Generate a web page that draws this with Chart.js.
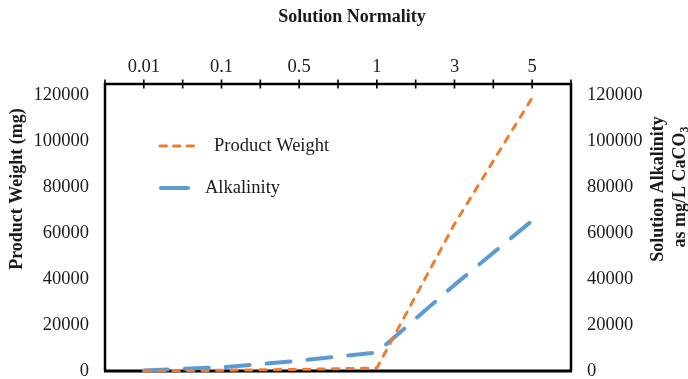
<!DOCTYPE html>
<html>
<head>
<meta charset="utf-8">
<script src="https://cdn.jsdelivr.net/npm/chart.js@4/dist/chart.umd.min.js"></script>
<style>
  html, body { margin: 0; padding: 0; background: #fff; }
  canvas { display: block; }
</style>
</head>
<body>
<canvas id="c" width="688" height="379"></canvas>
<script>
// ---- data ----
const categories = ['0.01', '0.1', '0.5', '1', '3', '5'];
const productWeight = [0, 300, 700, 1300, 64000, 119000];
const alkalinity = [200, 1600, 4500, 8100, 37500, 65500];
const yTicks = [0, 20000, 40000, 60000, 80000, 100000, 120000];
const seriesNames = ['Product Weight', 'Alkalinity'];
const xTitle = 'Solution Normality';
const yLeftTitle = 'Product Weight (mg)';
const yRightTitle1 = 'Solution Alkalinity';
const yRightTitle2 = 'as mg/L CaCO';
const yRightTitleSub = '3';

const ORANGE = '#ED7D31';
const BLUE = '#5B9BD5';
const SERIF = '"Liberation Serif", "Times New Roman", serif';
const TXT = '#1a1a1a';

const styleOrange = { width: 3, dash: [6.5, 8] };
const styleBlue = { width: 4, dash: [24, 17] };

const decor = {
  id: 'decor',
  beforeDatasetsDraw(chart) {
    const { ctx, chartArea: a } = chart;
    ctx.save();
    ctx.strokeStyle = '#000';
    ctx.lineCap = 'butt';
    ctx.lineWidth = 2.5;
    ctx.beginPath();
    ctx.moveTo(a.left, a.bottom);
    ctx.lineTo(a.left, a.top);
    ctx.lineTo(a.right, a.top);
    ctx.lineTo(a.right, a.bottom);
    ctx.stroke();
    ctx.lineWidth = 3.2;
    ctx.beginPath();
    ctx.moveTo(a.left - 1, a.bottom);
    ctx.lineTo(a.right + 1, a.bottom);
    ctx.stroke();
    const xs = chart.scales.x;
    const n = categories.length;
    const step = n > 1 ? xs.getPixelForTick(1) - xs.getPixelForTick(0) : 0;
    ctx.lineWidth = 1.6;
    ctx.beginPath();
    for (let i = 0; i < n; i++) {
      const c = xs.getPixelForTick(i);
      [c, c - step / 2, c + step / 2].forEach(px => {
        ctx.moveTo(px, a.top - 4.5);
        ctx.lineTo(px, a.top + 4.5);
      });
    }
    ctx.stroke();
    ctx.restore();
  },
  afterDraw(chart) {
    const { ctx } = chart;
    ctx.save();
    ctx.fillStyle = TXT;
    ctx.font = 'bold 18px ' + SERIF;
    ctx.textAlign = 'center';
    ctx.textBaseline = 'middle';
    ctx.fillText(xTitle, 352, 17);
    ctx.save();
    ctx.translate(17, 189);
    ctx.rotate(-Math.PI / 2);
    ctx.fillText(yLeftTitle, 0, 0);
    ctx.restore();
    ctx.save();
    ctx.translate(658, 189);
    ctx.rotate(-Math.PI / 2);
    ctx.fillText(yRightTitle1, 0, 0);
    ctx.restore();
    ctx.save();
    ctx.translate(680, 187);
    ctx.rotate(-Math.PI / 2);
    const mainW = ctx.measureText(yRightTitle2).width;
    ctx.font = 'bold 12px ' + SERIF;
    const subW = ctx.measureText(yRightTitleSub).width;
    const total = mainW + subW;
    ctx.textAlign = 'left';
    ctx.font = 'bold 18px ' + SERIF;
    ctx.fillText(yRightTitle2, -total / 2, 0);
    ctx.font = 'bold 12px ' + SERIF;
    ctx.fillText(yRightTitleSub, -total / 2 + mainW, 5);
    ctx.restore();

    const items = [
      { name: seriesNames[0], color: ORANGE, st: styleOrange, dash: [6.5, 7], x0: 160, x1: 199, tx: 214, y: 146 },
      { name: seriesNames[1], color: BLUE, st: styleBlue, dash: [], x0: 161, x1: 188, tx: 205, y: 188 }
    ];
    items.forEach(it => {
      ctx.save();
      ctx.strokeStyle = it.color;
      ctx.lineWidth = it.st.width;
      ctx.lineCap = 'round';
      ctx.setLineDash(it.dash);
      ctx.beginPath();
      ctx.moveTo(it.x0, it.y);
      ctx.lineTo(it.x1, it.y);
      ctx.stroke();
      ctx.restore();
      ctx.font = '18.5px ' + SERIF;
      ctx.textAlign = 'left';
      ctx.textBaseline = 'middle';
      ctx.fillStyle = TXT;
      ctx.fillText(it.name, it.tx, it.y);
    });
    ctx.restore();
  }
};

const tickFont = { family: SERIF, size: 18.5 };
const setTicks = s => { s.ticks = yTicks.map(v => ({ value: v })); };
const noPad = s => { s.paddingTop = 0; s.paddingBottom = 0; s.paddingLeft = 0; s.paddingRight = 0; };

new Chart(document.getElementById('c'), {
  type: 'line',
  data: {
    labels: categories,
    datasets: [
      {
        label: seriesNames[0],
        data: productWeight,
        yAxisID: 'y',
        borderColor: ORANGE,
        borderWidth: styleOrange.width,
        borderDash: styleOrange.dash,
        borderCapStyle: 'round',
        borderJoinStyle: 'round',
        pointRadius: 0,
        tension: 0,
        fill: false,
        clip: false,
        order: 1
      },
      {
        label: seriesNames[1],
        data: alkalinity,
        yAxisID: 'y1',
        borderColor: BLUE,
        borderWidth: styleBlue.width,
        borderDash: styleBlue.dash,
        borderCapStyle: 'round',
        borderJoinStyle: 'round',
        pointRadius: 0,
        tension: 0,
        fill: false,
        clip: false,
        order: 2
      }
    ]
  },
  options: {
    responsive: false,
    animation: false,
    devicePixelRatio: 1,
    layout: { padding: { left: 0, right: 0, top: 0, bottom: 8 } },
    plugins: { legend: { display: false }, tooltip: { enabled: false } },
    scales: {
      x: {
        type: 'category',
        position: 'top',
        offset: true,
        grid: { display: false, drawTicks: false },
        border: { display: false },
        ticks: { font: tickFont, color: TXT, padding: 6, maxRotation: 0 },
        afterFit(s) { s.height = 84; noPad(s); }
      },
      y: {
        type: 'linear',
        position: 'left',
        min: 0,
        max: 125000,
        grid: { display: false, drawTicks: false },
        border: { display: false },
        afterBuildTicks: setTicks,
        ticks: { font: tickFont, color: TXT, padding: 16, autoSkip: false, callback: v => String(v) },
        afterFit(s) { s.width = 105; noPad(s); }
      },
      y1: {
        type: 'linear',
        position: 'right',
        min: 0,
        max: 125000,
        grid: { display: false, drawTicks: false },
        border: { display: false },
        afterBuildTicks: setTicks,
        ticks: { font: tickFont, color: TXT, padding: 16, autoSkip: false, callback: v => String(v) },
        afterFit(s) { s.width = 117; noPad(s); }
      }
    }
  },
  plugins: [decor]
});
</script>
</body>
</html>
